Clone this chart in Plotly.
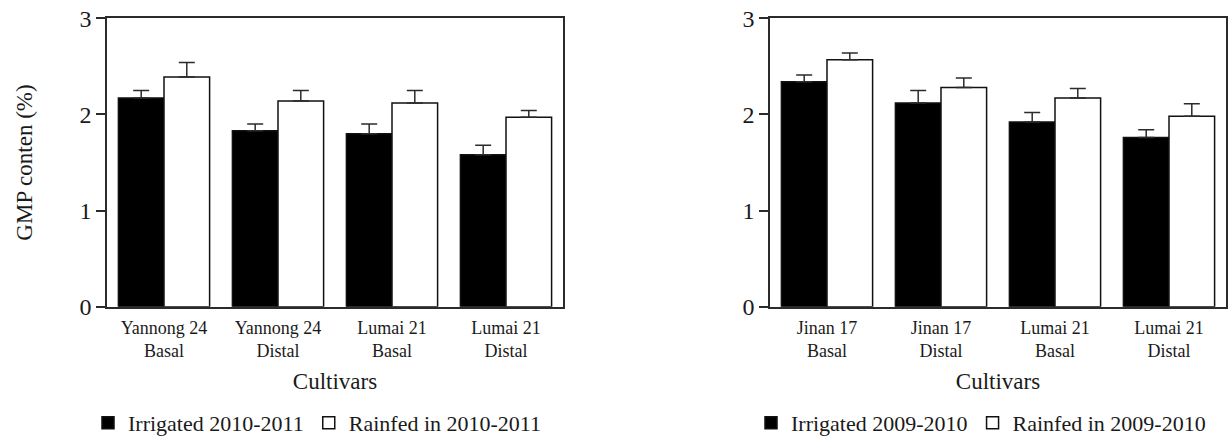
import plotly.graph_objects as go

# GMP content by cultivar and spike position, two seasons
cats_2010 = ["Yannong 24<br>Basal", "Yannong 24<br>Distal", "Lumai 21<br>Basal", "Lumai 21<br>Distal"]
irrigated_2010 = [2.17, 1.83, 1.80, 1.58]
irrigated_2010_err = [0.08, 0.07, 0.10, 0.10]
rainfed_2010 = [2.39, 2.14, 2.12, 1.97]
rainfed_2010_err = [0.15, 0.11, 0.13, 0.07]

cats_2009 = ["Jinan 17<br>Basal", "Jinan 17<br>Distal", "Lumai 21<br>Basal", "Lumai 21<br>Distal"]
irrigated_2009 = [2.34, 2.12, 1.92, 1.76]
irrigated_2009_err = [0.07, 0.13, 0.10, 0.08]
rainfed_2009 = [2.57, 2.28, 2.17, 1.98]
rainfed_2009_err = [0.07, 0.10, 0.10, 0.13]

y_ticks = [0, 1, 2, 3]

FONT = "Liberation Serif"
LINE = "#2b2b2b"
TXT = "#1a1a1a"
W, H = 1229, 437


def bar(name, cats, vals, errs, fill, xa, ya, legend):
    return go.Bar(
        name=name, x=cats, y=vals, xaxis=xa, yaxis=ya, legend=legend,
        marker=dict(color=fill, line=dict(color="#111111", width=1.5)),
        error_y=dict(type="data", array=errs, arrayminus=[0] * len(errs),
                     symmetric=False, color=LINE, thickness=1.5, width=8),
    )


fig = go.Figure()
fig.add_trace(bar("Irrigated 2010-2011", cats_2010, irrigated_2010, irrigated_2010_err, "black", "x", "y", "legend"))
fig.add_trace(bar("Rainfed in 2010-2011", cats_2010, rainfed_2010, rainfed_2010_err, "white", "x", "y", "legend"))
fig.add_trace(bar("Irrigated 2009-2010", cats_2009, irrigated_2009, irrigated_2009_err, "black", "x2", "y2", "legend2"))
fig.add_trace(bar("Rainfed in 2009-2010", cats_2009, rainfed_2009, rainfed_2009_err, "white", "x2", "y2", "legend2"))

ydom = [1 - 306.7 / H, 1 - 18.3 / H]
xcommon = dict(showline=True, linecolor=LINE, linewidth=1.5, mirror=True, ticks="",
               automargin=False, ticklabelstandoff=4,
               tickfont=dict(family=FONT, size=18, color=TXT), showgrid=False,
               title=dict(text="Cultivars", font=dict(family=FONT, size=23, color=TXT), standoff=12))
ycommon = dict(range=[0, 3], tickvals=y_ticks, showline=True, linecolor=LINE, linewidth=1.5,
               mirror=True, ticks="outside", ticklen=9, tickwidth=1.5, tickcolor=LINE,
               showgrid=False, zeroline=False, automargin=False,
               tickfont=dict(family=FONT, size=24, color=TXT), domain=ydom)

legend_common = dict(orientation="h", yanchor="middle", xanchor="left", y=1 - 423 / H,
                     font=dict(family=FONT, size=22, color=TXT), itemwidth=30,
                     bgcolor="rgba(0,0,0,0)", traceorder="normal")

fig.update_layout(
    width=W, height=H, margin=dict(l=0, r=0, t=0, b=0, autoexpand=False),
    paper_bgcolor="white", plot_bgcolor="white",
    barmode="group", bargap=0.2, bargroupgap=0,
    xaxis=dict(domain=[107 / W, 563 / W], anchor="y", **xcommon),
    yaxis=dict(anchor="x",
               title=dict(text="GMP conten (%)", font=dict(family=FONT, size=23, color=TXT), standoff=40),
               **ycommon),
    xaxis2=dict(domain=[770 / W, 1226 / W], anchor="y2", **xcommon),
    yaxis2=dict(anchor="x2", **ycommon),
    legend=dict(x=88 / W, **legend_common),
    legend2=dict(x=751 / W, **legend_common),
)

fig.write_html("out.html")
